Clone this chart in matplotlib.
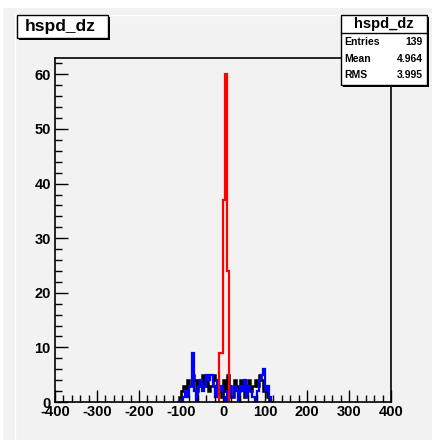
import numpy as np
import matplotlib
matplotlib.use("Agg")
import matplotlib.pyplot as plt
from matplotlib.patches import Rectangle
from matplotlib.lines import Line2D

# Histogram data (bin width 5)
red_edges = np.arange(-10, 20, 5)
red_counts = [9, 9, 37, 60, 24]

edges = np.arange(-110, 125, 5)
black_counts = [0, 1, 2, 3, 2, 4, 3, 5, 4, 2, 4, 3, 5, 3, 4, 2, 3, 5, 4, 2, 3, 1, 4,
                2, 5, 3, 1, 4, 3, 2, 4, 3, 1, 3, 4, 2, 3, 4, 3, 5, 4, 2, 3, 1, 0, 0]
blue_counts = [0, 0, 0, 1, 2, 1, 3, 9, 2, 0, 3, 4, 2, 3, 5, 4, 5, 3, 1, 4, 2, 3, 1,
               0, 2, 3, 1, 3, 2, 0, 3, 2, 4, 1, 3, 2, 1, 0, 2, 4, 5, 6, 2, 3, 1, 0]

hist_name = "hspd_dz"
stats = [("Entries", "139"), ("Mean", "4.964"), ("RMS", "3.995")]

W, H = 432, 440
bg = "#f2f2f2"
plt.rcParams["font.family"] = ["Liberation Sans", "DejaVu Sans"]
plt.rcParams["axes.unicode_minus"] = False

fig = plt.figure(figsize=(W / 100, H / 100), dpi=100, facecolor="white")


def fx(x):
    return x / W


def fy(y):
    return 1 - y / H


# canvas background
fig.add_artist(Rectangle((fx(3), fy(440)), fx(429), 432 / H, transform=fig.transFigure,
                         facecolor=bg, edgecolor="none", zorder=0))
fig.add_artist(Line2D([fx(15), fx(15)], [fy(15), fy(440)], transform=fig.transFigure,
                      color="white", lw=1, zorder=0.5))
fig.add_artist(Line2D([fx(15), fx(432)], [fy(15), fy(15)], transform=fig.transFigure,
                      color="white", lw=1, zorder=0.5))

ax = fig.add_axes([fx(55), fy(402), fx(391 - 55), (402 - 58) / H])
ax.set_facecolor(bg)

ax.stairs(black_counts, edges, color="black", lw=1.8, baseline=0)
ax.stairs(blue_counts, edges, color="blue", lw=1.6, baseline=0)
ax.stairs(red_counts, red_edges, color="red", lw=1.6, baseline=0)

ax.set_xlim(-400, 400)
ax.set_ylim(0, 63)
ax.set_xticks(np.arange(-400, 401, 100))
ax.set_xticks(np.arange(-400, 401, 20), minor=True)
ax.set_yticks(np.arange(0, 61, 10))
ax.set_yticks(np.arange(0, 63, 2), minor=True)
ax.tick_params(which="both", direction="in", width=1, colors="black",
               labelsize=10.5, top=False, right=False)
ax.tick_params(which="major", length=9)
ax.tick_params(which="minor", length=5)
ax.tick_params(axis="x", pad=2)
ax.tick_params(axis="y", pad=3)
for lab in ax.get_xticklabels() + ax.get_yticklabels():
    lab.set_fontweight("bold")
for sp in ax.spines.values():
    sp.set_linewidth(1.2)

# title box
fig.add_artist(Rectangle((fx(19), fy(40)), fx(91), 23 / H, transform=fig.transFigure,
                         facecolor="black", edgecolor="none", zorder=5))
fig.add_artist(Rectangle((fx(17), fy(38)), fx(91), 23 / H, transform=fig.transFigure,
                         facecolor="white", edgecolor="black", lw=1, zorder=6))
fig.text(fx(60), fy(27), hist_name, ha="center", va="center", fontsize=12.5,
         fontweight="bold", zorder=7)

# stats box
sx0, sy0, sx1, sy1 = 341, 15, 427, 85
fig.add_artist(Rectangle((fx(sx0 + 2), fy(sy1 + 2)), fx(sx1 - sx0), (sy1 - sy0) / H,
                         transform=fig.transFigure, facecolor="black", edgecolor="none", zorder=5))
fig.add_artist(Rectangle((fx(sx0), fy(sy1)), fx(sx1 - sx0), (sy1 - sy0) / H,
                         transform=fig.transFigure, facecolor="white", edgecolor="black",
                         lw=1, zorder=6))
fig.add_artist(Line2D([fx(sx0), fx(sx1)], [fy(33), fy(33)], transform=fig.transFigure,
                      color="black", lw=1, zorder=7))
fig.text(fx((sx0 + sx1) / 2), fy(24), hist_name, ha="center", va="center", fontsize=10.5,
         fontweight="bold", zorder=7)
for i, (k, v) in enumerate(stats):
    yy = 42 + i * 16.5
    fig.text(fx(sx0 + 3), fy(yy), k, ha="left", va="center", fontsize=7.5,
             fontweight="bold", zorder=7)
    fig.text(fx(sx1 - 4), fy(yy), v, ha="right", va="center", fontsize=7.5,
             fontweight="bold", zorder=7)

fig.savefig("out.png", dpi=100, facecolor=fig.get_facecolor())
